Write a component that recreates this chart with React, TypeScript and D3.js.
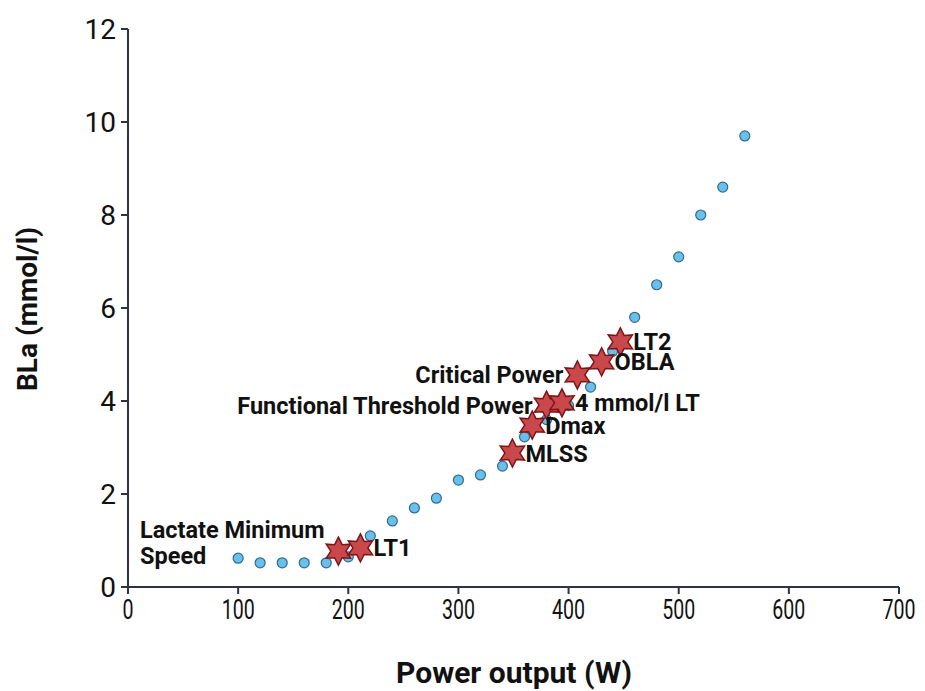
import React from "react";
import * as d3 from "d3";

// measured blood lactate during the step test
const powerW = [100, 120, 140, 160, 180, 200, 220, 240, 260, 280, 300, 320, 340, 360, 380, 400, 420, 440, 460, 480, 500, 520, 540, 560];
const lactate = [0.62, 0.52, 0.52, 0.52, 0.52, 0.65, 1.1, 1.42, 1.7, 1.91, 2.3, 2.41, 2.6, 3.23, 3.6, 3.9, 4.3, 5.07, 5.8, 6.5, 7.1, 8.0, 8.6, 9.7];

// threshold concepts
const markerNames = ["Lactate Minimum Speed", "LT1", "MLSS", "Dmax", "Functional Threshold Power", "4 mmol/l LT", "Critical Power", "OBLA", "LT2"];
const markerPower = [191, 211, 349, 367, 380, 394, 408, 430, 447];
const markerLactate = [0.77, 0.84, 2.88, 3.48, 3.91, 3.96, 4.56, 4.84, 5.27];
const markerSide = ["left", "right", "right", "right", "left", "right", "left", "right", "right"];

const xTicks = [0, 100, 200, 300, 400, 500, 600, 700];
const yTicks = [0, 2, 4, 6, 8, 10, 12];

const W = 925;
const H = 691;
const margin = { left: 128, right: 26, top: 29, bottom: 104 };

export default function App() {
  const x = d3.scaleLinear().domain([0, 700]).range([margin.left, W - margin.right]);
  const y = d3.scaleLinear().domain([0, 12]).range([H - margin.bottom, margin.top]);

  const starPts: [number, number][] = d3.range(12).map((i) => [(i * Math.PI) / 6, i % 2 === 0 ? 14 : 7.5]);
  const star = d3.lineRadial().curve(d3.curveLinearClosed)(starPts) as string;

  const axisColor = "#2d3440";
  const font = "Roboto, sans-serif";
  const labelSize = 23.5;

  return (
    <svg width={W} height={H} style={{ position: "absolute", left: 0, top: 0 }} fontFamily={font}>
      <rect width={W} height={H} fill="#fff" />
      {/* y axis */}
      <line x1={x(0)} x2={x(0)} y1={y(12)} y2={y(0)} stroke={axisColor} strokeWidth={2} />
      {yTicks.map((t) => (
        <g key={"y" + t} transform={`translate(0,${y(t)})`}>
          <line x1={x(0) - 7} x2={x(0)} stroke={axisColor} strokeWidth={2} />
          <text x={x(0) - 12} dy="0.35em" textAnchor="end" fontSize={28} fill="#111">{t}</text>
        </g>
      ))}
      {/* x axis */}
      <line x1={x(0)} x2={x(700)} y1={y(0)} y2={y(0)} stroke={axisColor} strokeWidth={2} />
      {xTicks.map((t) => (
        <g key={"x" + t} transform={`translate(${x(t)},${y(0)})`}>
          <line y1={0} y2={7} stroke={axisColor} strokeWidth={2} />
          <text y={32} textAnchor="middle" fontSize={28} fill="#111" transform="scale(0.7,1)">{t}</text>
        </g>
      ))}
      <text x={514} y={683} textAnchor="middle" fontSize={30} fontWeight="bold" fill="#111">Power output (W)</text>
      <text transform={`translate(37,309) rotate(-90)`} textAnchor="middle" fontSize={28} fontWeight="bold" fill="#111">BLa (mmol/l)</text>

      {/* data */}
      {powerW.map((p, i) => (
        <circle key={"d" + i} cx={x(p)} cy={y(lactate[i])} r={5} fill="#6cbfe9" stroke="#2c6d93" strokeWidth={1.2} />
      ))}

      {/* markers */}
      {markerNames.map((n, i) => (
        <path key={"s" + i} d={star} transform={`translate(${x(markerPower[i])},${y(markerLactate[i])})`} fill="#c9484b" stroke="#7d1518" strokeWidth={1.5} />
      ))}
      {markerNames.map((n, i) => {
        const cx = x(markerPower[i]);
        const cy = y(markerLactate[i]);
        const left = markerSide[i] === "left";
        if (n === "Lactate Minimum Speed") {
          return (
            <text key={"l" + i} x={140} y={538} fontSize={labelSize} fontWeight="bold" fill="#111">
              <tspan x={140}>Lactate Minimum</tspan>
              <tspan x={140} dy="1.1em">Speed</tspan>
            </text>
          );
        }
        return (
          <text key={"l" + i} x={left ? cx - 14 : cx + 13} y={cy} dy="0.36em" textAnchor={left ? "end" : "start"} fontSize={labelSize} fontWeight="bold" fill="#111">{n}</text>
        );
      })}
    </svg>
  );
}
